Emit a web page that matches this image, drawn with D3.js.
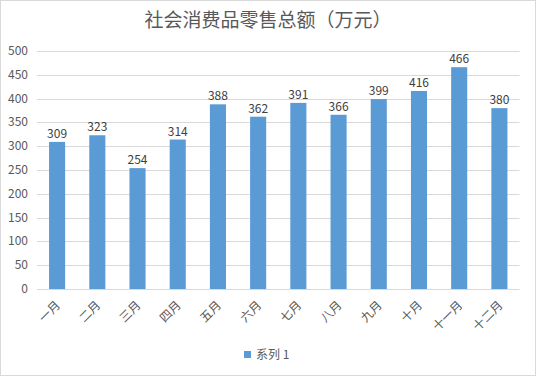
<!DOCTYPE html>
<html>
<head>
<meta charset="utf-8">
<script src="https://cdn.jsdelivr.net/npm/d3@7"></script>
<style>
  body { margin: 0; background: #fff; }
  svg { display: block; font-family: "Noto Sans CJK SC", "Noto Sans", sans-serif; }
</style>
</head>
<body>
<svg id="chart"></svg>
<script>
const months = ['一月', '二月', '三月', '四月', '五月', '六月', '七月', '八月', '九月', '十月', '十一月', '十二月'];
const sales = [309, 323, 254, 314, 388, 362, 391, 366, 399, 416, 466, 380];
const yTicks = [0, 50, 100, 150, 200, 250, 300, 350, 400, 450, 500];
const seriesName = '系列 1';
const chartTitle = '社会消费品零售总额（万元）';

const width = 536;
const height = 376;
const margin = { top: 51, right: 16.5, bottom: 87, left: 37 };

const svg = d3.select('#chart')
    .attr('width', width)
    .attr('height', height);

// outer frame
svg.append('rect')
    .attr('x', 0.5).attr('y', 0.5)
    .attr('width', width - 1).attr('height', height - 1)
    .attr('fill', '#fff')
    .attr('stroke', '#d9d9d9');

const x = d3.scaleBand()
    .domain(months)
    .range([margin.left, width - margin.right])
    .paddingInner(0.6)
    .paddingOuter(0.3);

const y = d3.scaleLinear()
    .domain([0, 500])
    .range([height - margin.bottom, margin.top]);

svg.append('text')
    .attr('x', 268)
    .attr('y', 27)
    .attr('text-anchor', 'middle')
    .attr('fill', '#595959')
    .style('font-size', '19px')
    .text(chartTitle);

// gridlines
svg.append('g')
    .selectAll('line')
    .data(yTicks)
    .enter().append('line')
    .attr('x1', margin.left)
    .attr('x2', width - margin.right)
    .attr('y1', d => Math.round(y(d)) + 0.5)
    .attr('y2', d => Math.round(y(d)) + 0.5)
    .attr('stroke', '#d9d9d9');

// y labels
svg.append('g')
    .selectAll('text')
    .data(yTicks)
    .enter().append('text')
    .attr('x', 28)
    .attr('y', d => y(d) + 4)
    .attr('text-anchor', 'end')
    .attr('fill', '#595959')
    .style('font-size', '12px')
    .text(d => d);

// bars
svg.append('g')
    .selectAll('rect')
    .data(sales)
    .enter().append('rect')
    .attr('x', (d, i) => x(months[i]))
    .attr('y', d => y(d))
    .attr('width', x.bandwidth())
    .attr('height', d => y(0) - y(d))
    .attr('fill', '#5b9bd5');

// data labels
svg.append('g')
    .selectAll('text')
    .data(sales)
    .enter().append('text')
    .attr('x', (d, i) => x(months[i]) + x.bandwidth() / 2)
    .attr('y', d => y(d) - 4)
    .attr('text-anchor', 'middle')
    .attr('fill', '#404040')
    .style('font-size', '12px')
    .text(d => d);

// x labels, rotated
svg.append('g')
    .selectAll('text')
    .data(months)
    .enter().append('text')
    .attr('transform', d => `translate(${x(d) + x.bandwidth() / 2 + 4},${y(0) + 17}) rotate(-45)`)
    .attr('text-anchor', 'end')
    .attr('fill', '#595959')
    .style('font-size', '12px')
    .text(d => d);

// legend
const legend = svg.append('g').attr('transform', 'translate(244,351)');
legend.append('rect')
    .attr('width', 7)
    .attr('height', 7)
    .attr('fill', '#5b9bd5');
legend.append('text')
    .attr('x', 12)
    .attr('y', 8)
    .attr('fill', '#595959')
    .style('font-size', '12px')
    .text(seriesName);
</script>
</body>
</html>
